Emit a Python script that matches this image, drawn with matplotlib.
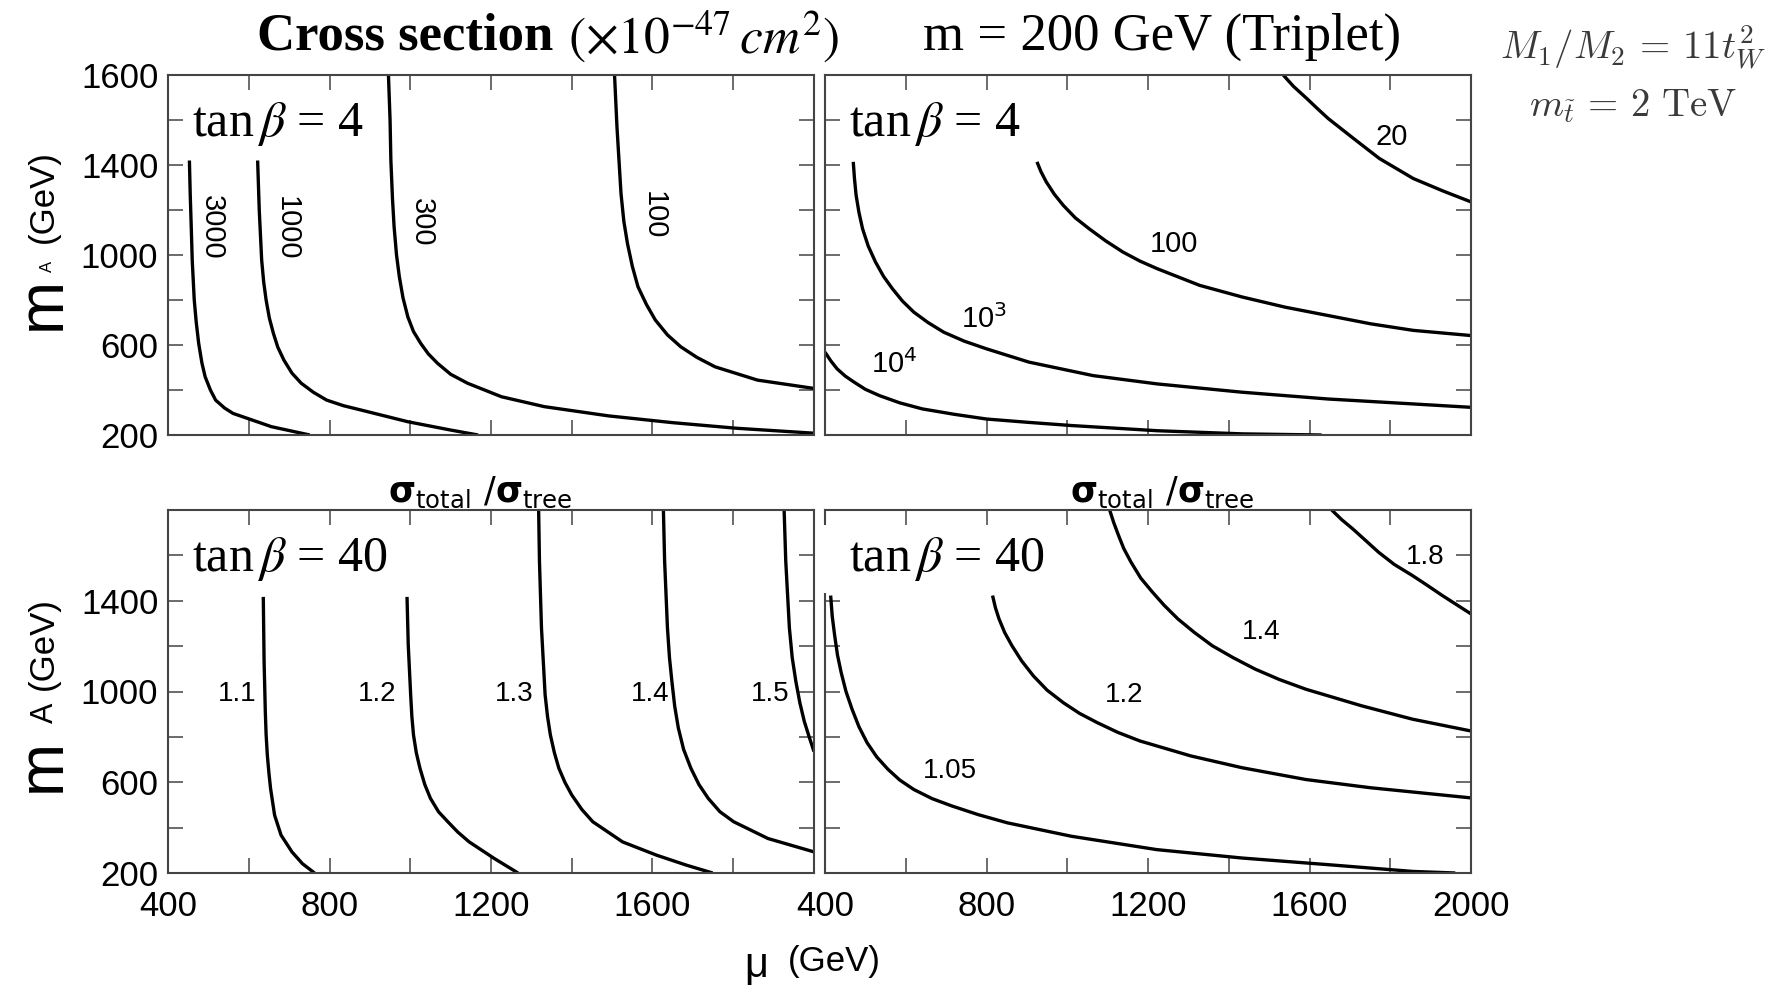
import matplotlib
matplotlib.use('Agg')
import matplotlib.pyplot as plt
from matplotlib.patches import Rectangle

# ---- data: (mu, mA) points along each contour ----
mu_ticks = [400, 600, 800, 1000, 1200, 1400, 1600, 1800, 2000]
ma_ticks = [200, 400, 600, 800, 1000, 1200, 1400, 1600, 1800]
tl_ylabels = ['200', '', '600', '', '1000', '', '1400', '', '1600']
bl_ylabels = ['200', '', '600', '', '1000', '', '1400', '', '']
bl_xlabels = ['400', '', '800', '', '1200', '', '1600', '', '']
br_xlabels = ['400', '', '800', '', '1200', '', '1600', '', '2000']

# top left: cross section, tan(beta)=4
tl_curves = {
    '3000': ([453, 455, 458, 460, 465, 470, 476, 484, 492, 505, 518, 540, 561, 603, 656, 751],
             [1420, 1273, 1100, 977, 800, 700, 607, 520, 459, 400, 355, 320, 296, 270, 237, 200]),
    '1000': ([622, 626, 632, 637, 643, 651, 661, 672, 687, 707, 730, 760, 793, 835, 878, 994, 1100, 1168],
             [1420, 1200, 977, 880, 800, 720, 652, 590, 533, 475, 430, 390, 355, 330, 311, 259, 222, 200]),
    '300': ([946, 950, 952, 956, 960, 966, 973, 982, 994, 1008, 1026, 1045, 1068, 1100, 1142, 1226, 1332, 1491, 1649, 1808, 2000],
            [1800, 1600, 1421, 1250, 1125, 1000, 903, 810, 725, 660, 607, 560, 518, 470, 430, 370, 326, 285, 255, 230, 208]),
    '100': ([1506, 1512, 1522, 1529, 1538, 1550, 1564, 1585, 1607, 1637, 1670, 1710, 1755, 1860, 2000],
            [1800, 1569, 1273, 1150, 1051, 950, 859, 780, 711, 645, 592, 545, 503, 444, 407]),
}
tl_label_pos = {'3000': (508, 1125), '1000': (693, 1118), '300': (1028, 1147), '100': (1602, 1177)}

# top right: cross section, tan(beta)=4
tr_curves = {
    '20': ([1535, 1560, 1593, 1620, 1646, 1709, 1773, 1857, 1930, 2000],
           [1800, 1750, 1696, 1650, 1607, 1518, 1429, 1340, 1285, 1236]),
    '100': ([925, 935, 948, 968, 990, 1020, 1054, 1095, 1138, 1180, 1223, 1328, 1434, 1540, 1646, 1752, 1857, 2000],
            [1414, 1370, 1325, 1270, 1221, 1165, 1117, 1063, 1013, 973, 939, 865, 813, 768, 731, 694, 665, 642]),
    '10$^3$': ([470, 473, 477, 484, 493, 507, 525, 545, 567, 592, 620, 655, 694, 745, 800, 905, 1064, 1223, 1434, 1646, 1857, 2000],
               [1414, 1340, 1266, 1190, 1117, 1040, 969, 905, 850, 795, 746, 700, 657, 617, 583, 524, 464, 427, 390, 360, 338, 323]),
    '10$^4$': ([400, 415, 430, 450, 472, 500, 535, 585, 641, 720, 800, 905, 1011, 1223, 1434, 1630],
               [568, 528, 494, 462, 435, 403, 375, 343, 316, 292, 271, 256, 242, 219, 205, 200]),
}
tr_label_pos = {'20': (1804, 1525), '100': (1265, 1050), '10$^3$': (795, 717), '10$^4$': (572, 516)}

# bottom left: sigma_total / sigma_tree, tan(beta)=40
bl_curves = {
    '1.1': ([636, 638, 641, 643, 646, 650, 654, 664, 680, 707, 733, 763],
            [1417, 1133, 912, 810, 720, 640, 573, 455, 367, 293, 241, 200]),
    '1.2': ([992, 995, 1001, 1004, 1008, 1015, 1024, 1036, 1050, 1070, 1093, 1118, 1146, 1209, 1267],
            [1417, 1207, 986, 890, 809, 730, 662, 590, 529, 470, 426, 380, 337, 263, 200]),
    '1.3': ([1318, 1320, 1325, 1334, 1340, 1347, 1357, 1368, 1383, 1400, 1425, 1452, 1526, 1611, 1685, 1749],
            [1800, 1576, 1281, 986, 890, 809, 730, 662, 600, 544, 480, 426, 337, 278, 234, 200]),
    '1.4': ([1627, 1630, 1637, 1642, 1648, 1655, 1664, 1677, 1695, 1715, 1738, 1767, 1801, 1886, 2000],
            [1800, 1576, 1281, 1150, 1045, 935, 839, 745, 662, 590, 529, 470, 426, 352, 293]),
    '1.5': ([1926, 1930, 1939, 1946, 1955, 1965, 1976, 1988, 2000],
            [1800, 1576, 1281, 1150, 1045, 950, 868, 800, 735]),
}
bl_label_pos = {'1.1': (572, 990), '1.2': (918, 990), '1.3': (1257, 990), '1.4': (1595, 990), '1.5': (1891, 990)}

# bottom right: sigma_total / sigma_tree, tan(beta)=40
br_curves = {
    '1.8': ([1655, 1680, 1707, 1740, 1771, 1810, 1855, 1890, 1929, 2000],
            [1800, 1757, 1717, 1664, 1614, 1560, 1511, 1470, 1423, 1342]),
    '1.4': ([1105, 1115, 1127, 1140, 1158, 1182, 1211, 1240, 1274, 1315, 1359, 1410, 1465, 1525, 1591, 1729, 1855, 2000],
            [1800, 1745, 1688, 1630, 1570, 1500, 1438, 1380, 1320, 1260, 1202, 1150, 1099, 1053, 1010, 937, 878, 826]),
    '1.2': ([815, 822, 831, 845, 863, 887, 916, 950, 990, 1030, 1074, 1125, 1180, 1306, 1433, 1591, 1750, 2000],
            [1423, 1370, 1320, 1260, 1202, 1135, 1069, 1006, 951, 904, 863, 820, 782, 716, 664, 612, 576, 531]),
    '1.05': ([414, 418, 424, 431, 440, 452, 467, 484, 504, 528, 556, 585, 620, 665, 715, 780, 852, 1010, 1222, 1433, 1644, 1855, 1961],
             [1423, 1330, 1246, 1160, 1084, 1000, 922, 845, 775, 712, 657, 610, 568, 528, 495, 457, 421, 362, 303, 266, 237, 207, 200]),
}
br_label_pos = {'1.8': (1887, 1592), '1.4': (1480, 1261), '1.2': (1142, 984), '1.05': (709, 650)}

# ---- figure ----
W, H = 1791, 986
fig = plt.figure(figsize=(W / 100, H / 100), dpi=100)


def fx(px):
    return px / W


def fy(py):
    return 1 - py / H


sans = ['Liberation Sans', 'DejaVu Sans']
serif = ['Liberation Serif', 'DejaVu Serif']

ax_tl = fig.add_axes([fx(168), fy(435), 646 / W, 360 / H])
ax_tr = fig.add_axes([fx(825), fy(435), 646 / W, 360 / H])
ax_bl = fig.add_axes([fx(168), fy(873), 646 / W, 363 / H])
ax_br = fig.add_axes([fx(825), fy(873), 646 / W, 363 / H])

panels = [
    (ax_tl, tl_curves, tl_label_pos, -90, 21, '4', tl_ylabels, None),
    (ax_tr, tr_curves, tr_label_pos, 0, 21, '4', None, None),
    (ax_bl, bl_curves, bl_label_pos, 0, 20, '40', bl_ylabels, bl_xlabels),
    (ax_br, br_curves, br_label_pos, 0, 20, '40', None, br_xlabels),
]

for ax, curves, lpos, rot, lsize, tb, ylabs, xlabs in panels:
    for key, (mu, ma) in curves.items():
        ax.plot(mu, ma, color='black', lw=2.4, solid_capstyle='butt', zorder=2)
        lx, ly = lpos[key]
        ax.text(lx, ly, key, rotation=rot, fontsize=lsize, family=sans,
                ha='center', va='center', zorder=4)
    ax.set_xlim(400, 2000)
    ax.set_ylim(200, 1800)
    ax.set_xticks(mu_ticks)
    ax.set_yticks(ma_ticks)
    ax.tick_params(direction='in', length=11, width=1.1, top=True, right=True,
                   color='#444444', labelsize=25, pad=7)
    if ylabs is None:
        ax.set_yticklabels([])
    else:
        ax.set_yticklabels(ylabs, family=sans)
    if xlabs is None:
        ax.set_xticklabels([])
    else:
        ax.set_xticklabels(xlabs, family=sans)
        ax.tick_params(axis='x', pad=12)
    for s in ax.spines.values():
        s.set_color('#444444')
        s.set_linewidth(1.5)
    ax.text(0.037, 0.865, r'tan$\,\beta$ = ' + tb, transform=ax.transAxes,
            family=serif, math_fontfamily='stix', fontsize=36,
            ha='left', va='center', zorder=5)

# white patch hiding part of the left frame of the lower right panel
ax_br.add_patch(Rectangle((-0.01, 0.77), 0.26, 0.19, transform=ax_br.transAxes,
                          fc='white', ec='none', clip_on=False, zorder=3))

# titles
fig.text(fx(257), fy(37), 'Cross section', family=serif, weight='bold',
         fontsize=38, ha='left', va='center')
fig.text(fx(568), fy(37), r'$(\times 10^{-47}\,cm^{2})$', math_fontfamily='stix',
         fontsize=37, ha='left', va='center')
fig.text(fx(923), fy(37), 'm = 200 GeV (Triplet)', family=serif,
         fontsize=38, ha='left', va='center')
fig.text(fx(1633), fy(48), r'$M_1/M_2\,=\,11t_W^2$', math_fontfamily='cm',
         fontsize=28, color='#3a3a3a', ha='center', va='center')
fig.text(fx(1633), fy(106), r'$m_{\tilde{t}}\,=\,2\ \mathrm{TeV}$', math_fontfamily='cm',
         fontsize=28, color='#3a3a3a', ha='center', va='center')

# sigma ratio labels over the lower panels
for cx in (480, 1162):
    fig.text(fx(cx), fy(492), r'$\mathbf{\sigma}_{\mathrm{total}}\ /\mathbf{\sigma}_{\mathrm{tree}}$',
             math_fontfamily='dejavusans', fontsize=25, ha='center', va='center')

# y axis labels
fig.text(fx(43), fy(303), 'm', family=sans, fontsize=46, rotation=90, ha='center', va='center')
fig.text(fx(47), fy(266), 'A', family=sans, fontsize=12, rotation=90, ha='center', va='center')
fig.text(fx(43), fy(197), '(GeV)', family=sans, fontsize=25, rotation=90, ha='center', va='center')
fig.text(fx(43), fy(765), 'm', family=sans, fontsize=46, rotation=90, ha='center', va='center')
fig.text(fx(45), fy(713), 'A', family=sans, fontsize=22, rotation=90, ha='center', va='center')
fig.text(fx(43), fy(644), '(GeV)', family=sans, fontsize=25, rotation=90, ha='center', va='center')

# x axis label
fig.text(fx(756), fy(966), '\u03bc', family=sans, fontsize=30, ha='center', va='center')
fig.text(fx(834), fy(962), '(GeV)', family=sans, fontsize=25, ha='center', va='center')

fig.savefig('out.png', dpi=100)
